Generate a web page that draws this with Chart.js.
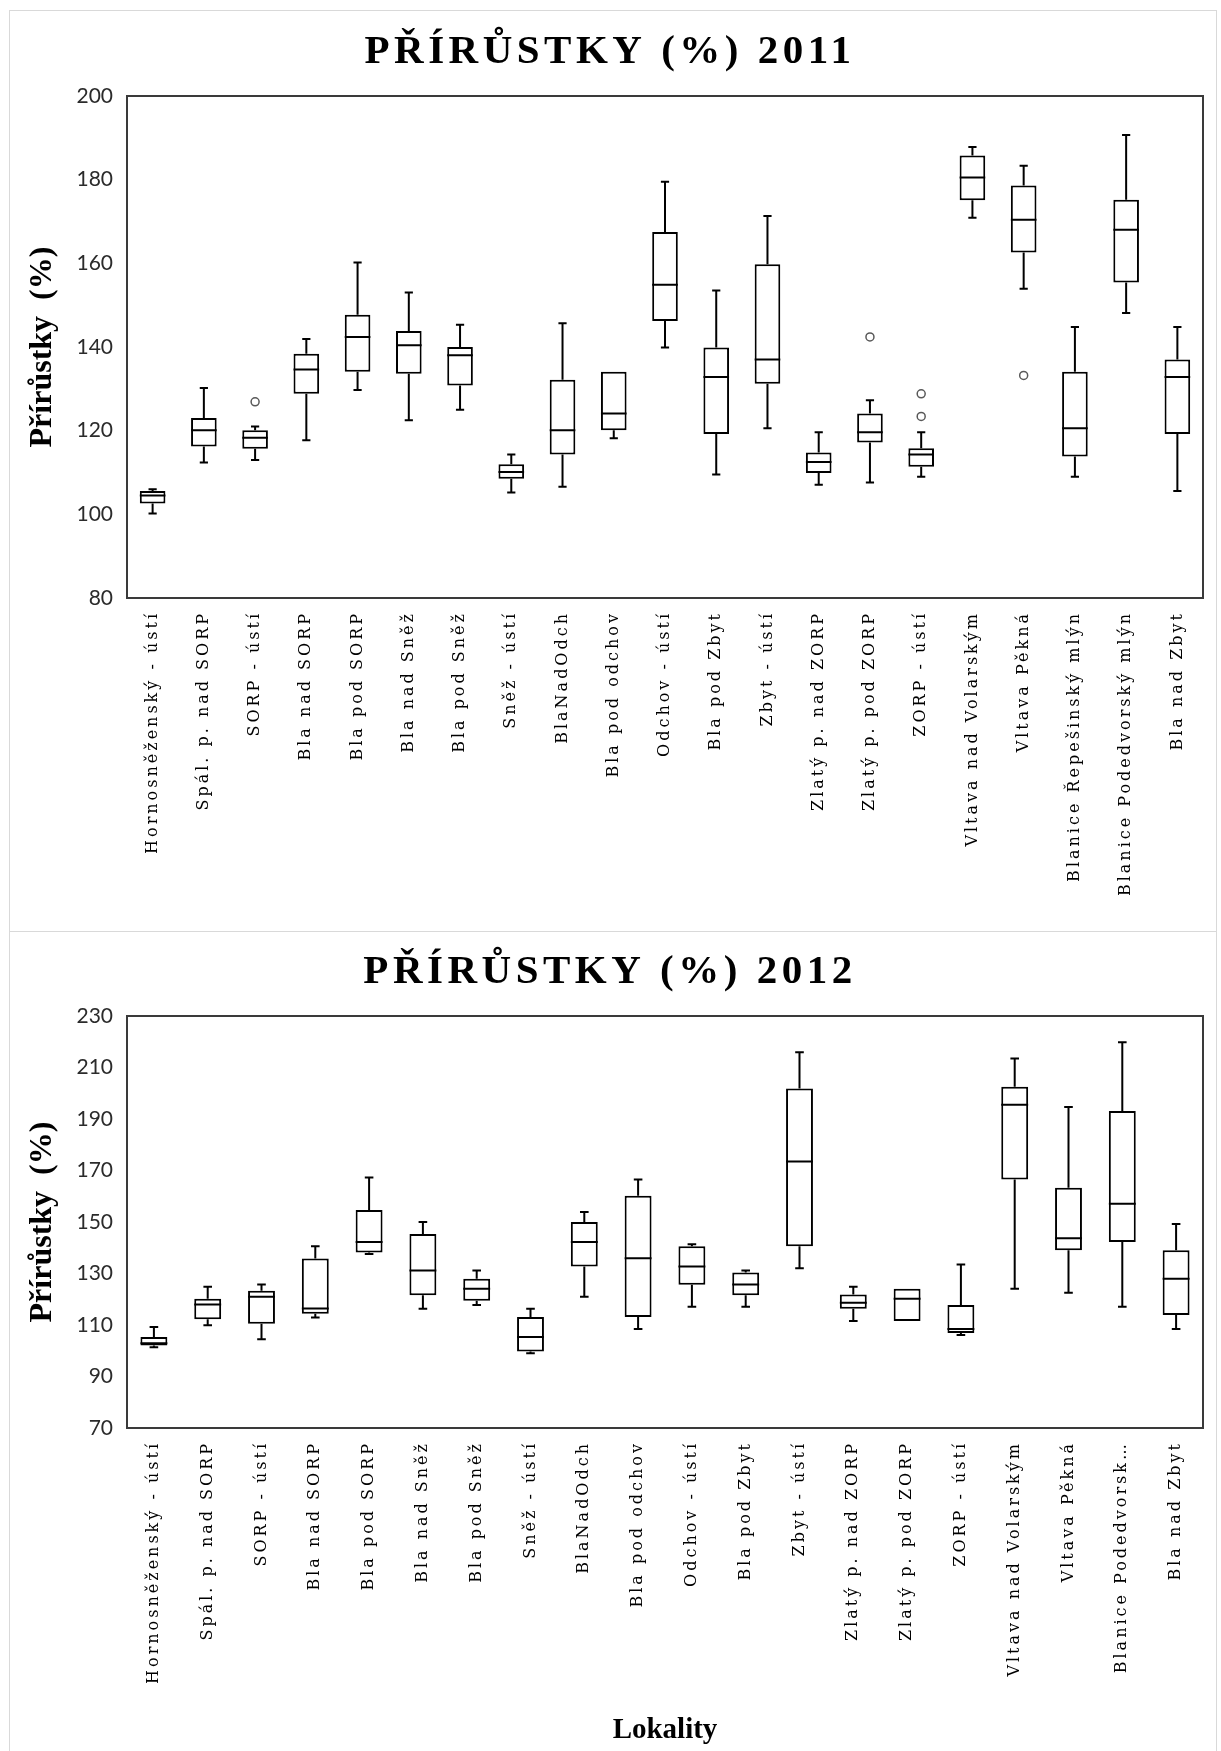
<!DOCTYPE html>
<html>
<head>
<meta charset="utf-8">
<script src="https://cdn.jsdelivr.net/npm/chart.js@4.4.1/dist/chart.umd.min.js"></script>
<style>
  body { margin: 0; background: #fff; }
  .panel { position: absolute; left: 9px; width: 1206px; border: 1px solid #d9d9d9; background: #fff; }
  #panel2011 { top: 10px; height: 920px; }
  #panel2012 { top: 931px; height: 830px; }
  canvas { display: block; }
</style>
</head>
<body>
<div class="panel" id="panel2011"><canvas id="chart2011" width="1206" height="920"></canvas></div>
<div class="panel" id="panel2012"><canvas id="chart2012" width="1206" height="819"></canvas></div>
<script>
// --- 2011 ---
const lokality2011 = [
  'Hornosněženský - ústí', 'Spál. p. nad SORP', 'SORP - ústí', 'Bla nad SORP', 'Bla pod SORP',
  'Bla nad Sněž', 'Bla pod Sněž', 'Sněž - ústí', 'BlaNadOdch', 'Bla pod odchov', 'Odchov - ústí',
  'Bla pod Zbyt', 'Zbyt - ústí', 'Zlatý p. nad ZORP', 'Zlatý p. pod ZORP', 'ZORP - ústí',
  'Vltava nad Volarským', 'Vltava Pěkná', 'Blanice Řepešinský mlýn', 'Blanice Podedvorský mlýn', 'Bla nad Zbyt'
];
const min2011    = [100.2, 112.4, 113.0, 117.7, 129.7, 122.5, 125.0, 105.2, 106.6, 118.2, 139.9, 109.5, 120.6, 107.1, 107.6, 109.0, 170.9, 153.9, 109.0, 148.1, 105.6];
const q1_2011    = [102.6, 116.2, 115.7, 128.8, 134.1, 133.6, 130.8, 108.5, 114.3, 120.1, 146.2, 119.2, 131.2, 109.9, 117.2, 111.4, 175.1, 162.6, 113.8, 155.4, 119.2];
const median2011 = [104.5, 120.1, 118.3, 134.6, 142.4, 140.4, 138.0, 110.1, 120.1, 124.1, 154.9, 132.8, 137.0, 112.5, 119.6, 114.3, 180.5, 170.4, 120.6, 168.0, 132.8];
const q3_2011    = [105.6, 123.0, 120.1, 138.4, 147.7, 143.8, 140.0, 112.0, 132.2, 134.1, 167.5, 139.9, 159.8, 114.8, 124.1, 115.8, 185.8, 178.6, 134.1, 175.2, 137.0];
const max2011    = [106.0, 130.2, 121.0, 141.9, 160.2, 153.0, 145.3, 114.3, 145.7, 134.1, 179.5, 153.5, 171.3, 119.6, 127.3, 119.6, 187.8, 183.3, 144.8, 190.7, 144.8];
const outlierLokalita2011 = ['SORP - ústí', 'Zlatý p. pod ZORP', 'ZORP - ústí', 'ZORP - ústí', 'Vltava Pěkná'];
const outlierHodnota2011  = [126.9, 142.4, 128.8, 123.4, 133.2];
const osaY2011 = [80, 200, 20]; // min, max, step

// --- 2012 ---
const lokality2012 = [
  'Hornosněženský - ústí', 'Spál. p. nad SORP', 'SORP - ústí', 'Bla nad SORP', 'Bla pod SORP',
  'Bla nad Sněž', 'Bla pod Sněž', 'Sněž - ústí', 'BlaNadOdch', 'Bla pod odchov', 'Odchov - ústí',
  'Bla pod Zbyt', 'Zbyt - ústí', 'Zlatý p. nad ZORP', 'Zlatý p. pod ZORP', 'ZORP - ústí',
  'Vltava nad Volarským', 'Vltava Pěkná', 'Blanice Podedvorsk…', 'Bla nad Zbyt'
];
const min2012    = [101.4, 109.9, 104.5, 112.9, 137.6, 116.3, 117.8,  99.0, 121.0, 108.4, 117.1, 117.1, 132.0, 111.6, 111.6, 106.1, 124.1, 122.5, 117.1, 108.4];
const q1_2012    = [102.0, 112.2, 110.5, 114.4, 138.2, 121.6, 119.4,  99.7, 132.7, 113.1, 125.6, 121.6, 140.6, 116.3, 111.6, 106.9, 166.5, 139.0, 142.2, 113.9];
const median2012 = [102.9, 118.0, 121.0, 116.4, 142.2, 131.2, 124.1, 105.3, 142.2, 135.9, 132.7, 125.7, 173.5, 118.6, 120.2, 108.4, 195.5, 143.7, 157.1, 128.0];
const q3_2012    = [105.3, 120.2, 123.3, 135.8, 154.7, 145.3, 128.0, 113.1, 150.0, 160.2, 140.6, 130.4, 201.8, 121.8, 124.1, 117.8, 202.5, 163.3, 193.1, 139.0];
const max2012    = [109.2, 124.9, 125.7, 140.6, 167.3, 150.0, 131.2, 116.3, 153.9, 166.5, 141.4, 131.2, 215.9, 124.9, 124.1, 133.5, 213.5, 194.7, 219.8, 149.2];
const osaY2012 = [70, 230, 20];

const serif = "'Liberation Serif', 'Times New Roman', serif";
Chart.defaults.font.family = "Lato, 'Open Sans', sans-serif";
Chart.defaults.color = '#2b2b2b';

// whiskers, caps and median line on top of each box
const whiskers = {
  id: 'whiskers',
  afterDatasetsDraw(chart, args, opts) {
    const ctx = chart.ctx;
    const y = chart.scales.y;
    const meta = chart.getDatasetMeta(0);
    ctx.save();
    ctx.strokeStyle = opts.color;
    ctx.lineWidth = opts.width;
    meta.data.forEach((bar, i) => {
      const {x, width} = bar.getProps(['x', 'width'], true);
      const cap = width * 0.16;
      ctx.beginPath();
      if (opts.max[i] > opts.q3[i]) {
        const top = y.getPixelForValue(opts.max[i]);
        ctx.moveTo(x, y.getPixelForValue(opts.q3[i]));
        ctx.lineTo(x, top);
        ctx.moveTo(x - cap, top);
        ctx.lineTo(x + cap, top);
      }
      if (opts.min[i] < opts.q1[i]) {
        const bottom = y.getPixelForValue(opts.min[i]);
        ctx.moveTo(x, y.getPixelForValue(opts.q1[i]));
        ctx.lineTo(x, bottom);
        ctx.moveTo(x - cap, bottom);
        ctx.lineTo(x + cap, bottom);
      }
      const med = y.getPixelForValue(opts.median[i]);
      ctx.moveTo(x - width / 2, med);
      ctx.lineTo(x + width / 2, med);
      ctx.stroke();
    });
    ctx.restore();
  }
};

// plot frame round the chart area
const frame = {
  id: 'frame',
  afterDraw(chart, args, opts) {
    const {ctx, chartArea: a} = chart;
    ctx.save();
    ctx.strokeStyle = opts.color;
    ctx.lineWidth = opts.width;
    ctx.strokeRect(a.left, a.top, a.right - a.left, a.bottom - a.top);
    ctx.restore();
  }
};

// letter spacing for the title and the category labels
function spaced(obj, fn, px) {
  if (!obj || obj[fn]._spaced) return;
  const orig = obj[fn];
  const wrapped = function (...args) {
    this.ctx.save();
    this.ctx.letterSpacing = px;
    orig.apply(this, args);
    this.ctx.restore();
  };
  wrapped._spaced = true;
  obj[fn] = wrapped;
}
const spacing = {
  id: 'spacing',
  beforeDraw(chart, args, opts) {
    spaced(chart.titleBlock, 'draw', opts.title);
    spaced(chart.scales.x, 'drawLabels', opts.ticks);
  }
};

function boxChart(id, s) {
  return new Chart(document.getElementById(id), {
    type: 'bar',
    data: {
      labels: s.labels,
      datasets: [{
        data: s.q1.map((v, i) => [v, s.q3[i]]),
        backgroundColor: '#fff',
        borderColor: '#000',
        borderWidth: 2,
        borderSkipped: false,
        barPercentage: 0.5,
        categoryPercentage: 1
      }, {
        type: 'scatter',
        data: s.outX.map((x, i) => ({x: x, y: s.outY[i]})),
        pointRadius: 4,
        pointBorderWidth: 1.5,
        pointBorderColor: '#595959',
        pointBackgroundColor: '#fff'
      }]
    },
    options: {
      responsive: false,
      animation: false,
      layout: {padding: {left: 7, right: 13, top: 0, bottom: 0}},
      plugins: {
        legend: {display: false},
        tooltip: {enabled: false},
        title: {
          display: true,
          text: s.title,
          color: '#000',
          font: {family: serif, size: 41, weight: 'bold', lineHeight: 1.2},
          padding: {top: s.titleTop, bottom: s.titleBottom}
        },
        whiskers: {min: s.min, q1: s.q1, median: s.median, q3: s.q3, max: s.max, color: '#000', width: 2},
        frame: {color: '#3a3a3a', width: 2},
        spacing: {title: '4.5px', ticks: '3px'}
      },
      scales: {
        x: {
          grid: {display: false},
          border: {display: false},
          ticks: {
            autoSkip: false, minRotation: 90, maxRotation: 90, padding: 5,
            color: '#000',
            font: {family: "'DejaVu Serif', serif", size: 16}
          },
          title: {
            display: !!s.xTitle,
            text: s.xTitle,
            color: '#000',
            font: {family: serif, size: 29, weight: 'bold', lineHeight: 1.2},
            padding: {top: 0, bottom: 3}
          },
          afterFit: (scale) => { scale.height = s.xHeight; }
        },
        y: {
          min: s.axis[0], max: s.axis[1],
          grid: {display: false, drawTicks: false},
          border: {display: false},
          ticks: {stepSize: s.axis[2], padding: 14, font: {size: 21}},
          title: {
            display: true,
            text: 'Přírůstky  (%)',
            color: '#000',
            font: {family: serif, size: 32, weight: 'bold', lineHeight: 1.2},
            padding: {top: 7, bottom: 0}
          },
          afterFit: (scale) => { scale.width = 110; }
        }
      }
    },
    plugins: [whiskers, frame, spacing]
  });
}

boxChart('chart2011', {
  labels: lokality2011, min: min2011, q1: q1_2011, median: median2011, q3: q3_2011, max: max2011,
  outX: outlierLokalita2011, outY: outlierHodnota2011, axis: osaY2011,
  title: 'PŘÍRŮSTKY (%) 2011', titleTop: 16.4, titleBottom: 19.4,
  xTitle: '', xHeight: 333
});

boxChart('chart2012', {
  labels: lokality2012, min: min2012, q1: q1_2012, median: median2012, q3: q3_2012, max: max2012,
  outX: [], outY: [], axis: osaY2012,
  title: 'PŘÍRŮSTKY (%) 2012', titleTop: 15.4, titleBottom: 19.4,
  xTitle: 'Lokality', xHeight: 323
});
</script>
</body>
</html>
